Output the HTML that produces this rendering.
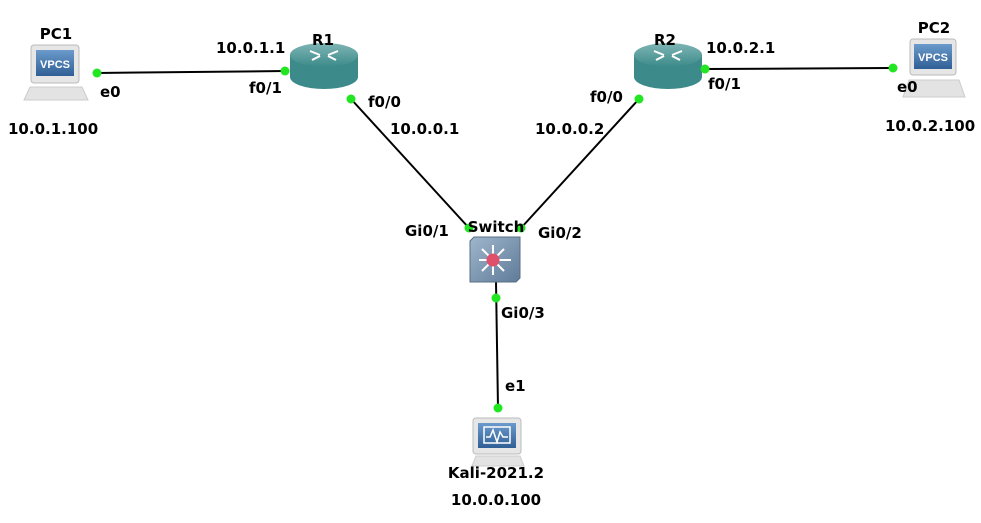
<!DOCTYPE html>
<html><head><style>
html,body{margin:0;padding:0;background:#fff;}
svg text{font-family:"DejaVu Sans","Liberation Sans",sans-serif;font-weight:bold;font-size:15px;fill:#000;}
</style></head><body>
<svg width="981" height="518" viewBox="0 0 981 518" xmlns="http://www.w3.org/2000/svg">
<defs>
<linearGradient id="rt" x1="0" y1="0" x2="0" y2="1"><stop offset="0" stop-color="#7fb5b5"/><stop offset="1" stop-color="#3c8a8a"/></linearGradient>
<linearGradient id="sw" x1="0" y1="0" x2="1" y2="1"><stop offset="0" stop-color="#9fb6cc"/><stop offset="1" stop-color="#5f7b99"/></linearGradient>
<linearGradient id="scr" x1="0" y1="0" x2="0" y2="1"><stop offset="0" stop-color="#6b9acb"/><stop offset="1" stop-color="#2f5f95"/></linearGradient>
</defs>
<g stroke="#000" stroke-width="2">
<line x1="97" y1="73" x2="285" y2="71"/>
<line x1="351" y1="99" x2="469" y2="228"/>
<line x1="705" y1="69" x2="893" y2="68"/>
<line x1="639" y1="99" x2="521" y2="228"/>
<line x1="496" y1="282" x2="498" y2="408"/>
</g>
<g>
<rect x="31" y="45" width="48" height="38" rx="3" fill="#e6e6e6" stroke="#bbb"/>
<rect x="36" y="50" width="38" height="26" fill="url(#scr)"/>
<text x="55" y="68" text-anchor="middle" style="font-size:11px;fill:#fff;font-family:'Liberation Sans',sans-serif">VPCS</text>
<polygon points="30,87 82,87 88,100 24,100" fill="#e3e3e3" stroke="#ccc"/>
</g>
<g>
<rect x="910" y="39" width="46" height="36" rx="3" fill="#e6e6e6" stroke="#bbb"/>
<rect x="914" y="44" width="38" height="25" fill="url(#scr)"/>
<text x="933" y="61" text-anchor="middle" style="font-size:11px;fill:#fff;font-family:'Liberation Sans',sans-serif">VPCS</text>
<polygon points="909,80 959,80 965,97 903,97" fill="#e3e3e3" stroke="#ccc"/>
</g>
<g>
<path d="M290,55 v22 a34,12 0 0 0 68,0 v-22 z" fill="#3c8a8a"/>
<ellipse cx="324" cy="55" rx="34" ry="12" fill="url(#rt)"/>
<path d="M310,51 l10,4 M338,51 l-10,4 M312,60 l8,-4 M336,60 l-8,-4" stroke="#fff" stroke-width="2"/>
</g>
<g>
<path d="M634,55 v22 a34,12 0 0 0 68,0 v-22 z" fill="#3c8a8a"/>
<ellipse cx="668" cy="55" rx="34" ry="12" fill="url(#rt)"/>
<path d="M654,51 l10,4 M682,51 l-10,4 M656,60 l8,-4 M680,60 l-8,-4" stroke="#fff" stroke-width="2"/>
</g>
<g>
<polygon points="470,241 474,237 520,237 520,278 516,282 470,282" fill="url(#sw)" stroke="#5a6f85"/>
<g stroke="#fff" stroke-width="2">
<line x1="479" y1="260" x2="511" y2="260"/><line x1="493" y1="245" x2="493" y2="275"/>
<line x1="482" y1="249" x2="504" y2="271"/><line x1="504" y1="249" x2="482" y2="271"/>
</g>
<circle cx="493" cy="260" r="6.5" fill="#e0506a"/>
</g>
<g>
<rect x="473" y="418" width="48" height="36" rx="3" fill="#e6e6e6" stroke="#bbb"/>
<rect x="478" y="423" width="38" height="25" fill="url(#scr)"/>
<rect x="484" y="427" width="26" height="16" fill="none" stroke="#fff" stroke-width="1.5"/>
<polyline points="486,437 490,437 493,430 497,442 500,432 503,437 508,437" fill="none" stroke="#fff" stroke-width="1.5"/>
<polygon points="476,456 520,456 524,466 472,466" fill="#e3e3e3" stroke="#ccc"/>
</g>
<g fill="#22e622">
<circle cx="97" cy="73" r="4.5"/><circle cx="285" cy="71" r="4.5"/>
<circle cx="351" cy="99" r="4.5"/><circle cx="469" cy="228" r="4.5"/>
<circle cx="705" cy="69" r="4.5"/><circle cx="893" cy="68" r="4.5"/>
<circle cx="639" cy="99" r="4.5"/><circle cx="521" cy="228" r="4.5"/>
<circle cx="496" cy="298" r="4.5"/><circle cx="498" cy="408" r="4.5"/>
</g>
<text x="56" y="39" text-anchor="middle">PC1</text>
<text x="100" y="97">e0</text>
<text x="8" y="134">10.0.1.100</text>
<text x="216" y="53">10.0.1.1</text>
<text x="323" y="45" text-anchor="middle">R1</text>
<text x="249" y="93">f0/1</text>
<text x="368" y="107">f0/0</text>
<text x="390" y="134">10.0.0.1</text>
<text x="665" y="45" text-anchor="middle">R2</text>
<text x="706" y="53">10.0.2.1</text>
<text x="708" y="89">f0/1</text>
<text x="590" y="102">f0/0</text>
<text x="535" y="134">10.0.0.2</text>
<text x="934" y="33" text-anchor="middle">PC2</text>
<text x="897" y="92">e0</text>
<text x="885" y="131">10.0.2.100</text>
<text x="496" y="232" text-anchor="middle">Switch</text>
<text x="405" y="236">Gi0/1</text>
<text x="538" y="238">Gi0/2</text>
<text x="501" y="318">Gi0/3</text>
<text x="505" y="391">e1</text>
<text x="496" y="478" text-anchor="middle">Kali-2021.2</text>
<text x="496" y="505" text-anchor="middle">10.0.0.100</text>
</svg>
</body></html>
